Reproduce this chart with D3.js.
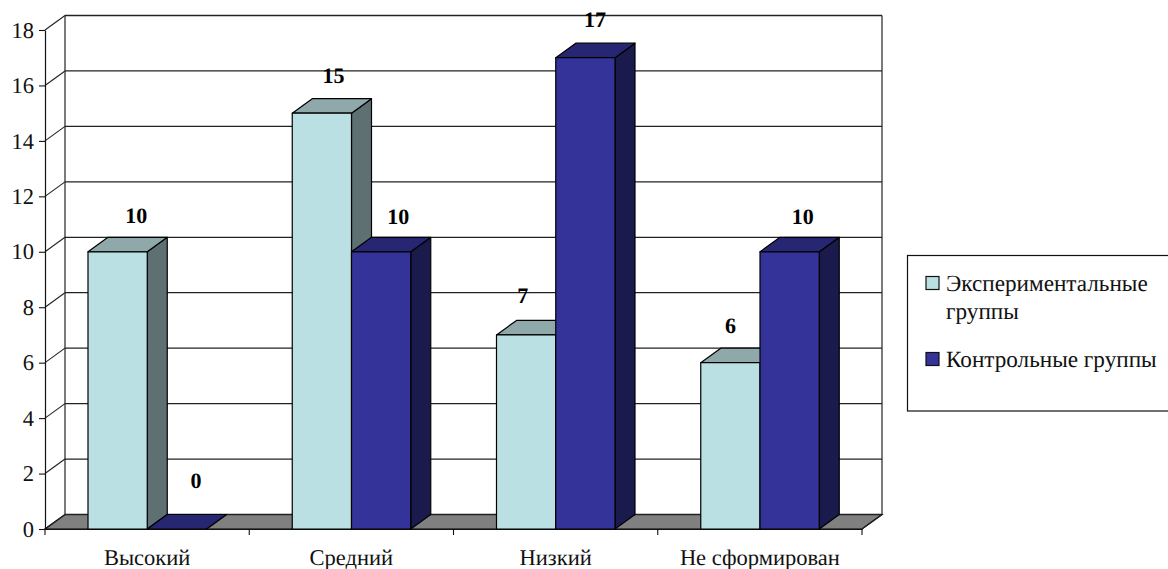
<!DOCTYPE html>
<html lang="ru">
<head>
<meta charset="utf-8">
<script src="https://cdnjs.cloudflare.com/ajax/libs/d3/7.8.5/d3.min.js"></script>
<style>
html,body{margin:0;padding:0;background:#fff}
svg{display:block}
svg text{font-family:'Liberation Serif',serif !important;fill:#111;text-rendering:geometricPrecision}
</style>
</head>
<body>
<svg id="chart" width="1168" height="569"></svg>
<script>
const categories = ["Высокий", "Средний", "Низкий", "Не сформирован"];
const experimental = [10, 15, 7, 6];
const control = [0, 10, 17, 10];
const yTicks = [0, 2, 4, 6, 8, 10, 12, 14, 16, 18];
const legendLines = [["Экспериментальные", "группы"], ["Контрольные группы"]];

const svg = d3.select("#chart");
const depthX = 20, depthY = -14.5;

const x = d3.scaleBand().domain(categories).range([45, 862]).paddingInner(0).paddingOuter(0);
const y = d3.scaleLinear().domain([0, 18]).range([529, 30]);
const series = d3.scaleBand().domain([0, 1]).range([43, 161.5]);

const seriesStyles = [
  {front: "#bbe0e3", top: "#8fa8aa", side: "#5f7073", values: experimental},
  {front: "#333399", top: "#262673", side: "#1a1a4d", values: control}
];

// Hand-placed value labels: shift from the centre of the bar, per series and category
const labelShiftX = [[18.5, 11.5, -3.5, 0], [19, 17, 9.5, 13]];
const labelShiftY = [[-14, -16, -17, -15], [-26.5, -13, -16, -13]];

const pts = a => a.map(p => p.join(",")).join(" ");
const x0 = x.range()[0], x1 = x.range()[1];

// Floor of the 3D box
svg.append("polygon")
  .attr("points", pts([[x0, y(0)], [x1, y(0)], [x1 + depthX, y(0) + depthY], [x0 + depthX, y(0) + depthY]]))
  .attr("fill", "#808080").attr("stroke", "#000").attr("stroke-width", 1.2);

// Back wall gridlines and the slanted lines running down the left wall
const grid = svg.append("g").attr("stroke", "#222").attr("fill", "none");
grid.selectAll("line.back").data(yTicks).join("line").attr("class", "back")
  .attr("x1", x0 + depthX).attr("x2", x1 + depthX)
  .attr("y1", d => y(d) + depthY).attr("y2", d => y(d) + depthY)
  .attr("stroke-width", d => d === 0 || d === 18 ? 1.6 : 1.3);
grid.selectAll("line.wall").data(yTicks).join("line").attr("class", "wall")
  .attr("x1", x0).attr("x2", x0 + depthX)
  .attr("y1", d => y(d)).attr("y2", d => y(d) + depthY)
  .attr("stroke-width", 1.1);
grid.append("line").attr("x1", x0 + depthX).attr("x2", x0 + depthX)
  .attr("y1", y(18) + depthY).attr("y2", y(0) + depthY).attr("stroke-width", 1.2);
grid.append("line").attr("x1", x1 + depthX).attr("x2", x1 + depthX)
  .attr("y1", y(18) + depthY).attr("y2", y(0) + depthY).attr("stroke-width", 1.2);
grid.append("line").attr("x1", x1).attr("x2", x1 + depthX)
  .attr("y1", y(0)).attr("y2", y(0) + depthY).attr("stroke-width", 1.1);

// Left value axis
const yAxis = svg.append("g").attr("transform", `translate(${x0},0)`)
  .call(d3.axisLeft(y).tickValues(yTicks).tickSize(6).tickPadding(5).tickSizeOuter(0));
yAxis.select(".domain").attr("stroke", "#111").attr("stroke-width", 1.2);
yAxis.selectAll(".tick line").attr("stroke", "#111").attr("stroke-width", 1.1);
yAxis.selectAll("text").style("font-size", "22.5px").attr("fill", "#222");

// Bottom category axis
const xAxis = svg.append("g").attr("transform", `translate(0,${y(0)})`)
  .call(d3.axisBottom(x).tickSize(0).tickPadding(20));
xAxis.select(".domain").attr("stroke", "#111").attr("stroke-width", 1.2);
xAxis.selectAll("text").style("font-size", "22.5px").attr("fill", "#222");
svg.append("g").selectAll("line")
  .data(categories.map(c => x(c)).concat([x1])).join("line")
  .attr("x1", d => d).attr("x2", d => d)
  .attr("y1", y(0)).attr("y2", y(0) + 6)
  .attr("stroke", "#111").attr("stroke-width", 1.1);

// Bars are painted category by category, left series first, so the right bar overlaps
const bars = svg.append("g").attr("stroke", "#000").attr("stroke-width", 1.2).attr("stroke-linejoin", "round");
categories.forEach((cat, i) => {
  seriesStyles.forEach((s, j) => {
    const v = s.values[i];
    const l = x(cat) + series(j), r = l + series.bandwidth();
    const t = y(v), b = y(0);
    const g = bars.append("g");
    g.append("polygon").attr("fill", s.side)
      .attr("points", pts([[r, t], [r + depthX, t + depthY], [r + depthX, b + depthY], [r, b]]));
    g.append("polygon").attr("fill", s.top)
      .attr("points", pts([[l, t], [l + depthX, t + depthY], [r + depthX, t + depthY], [r, t]]));
    if (v > 0) {
      g.append("rect").attr("fill", s.front)
        .attr("x", l).attr("y", t).attr("width", r - l).attr("height", b - t);
    }
  });
});

// Value labels above the bars
categories.forEach((cat, i) => {
  seriesStyles.forEach((s, j) => {
    const v = s.values[i];
    const cx = x(cat) + series(j) + series.bandwidth() / 2 + labelShiftX[j][i];
    svg.append("text")
      .attr("x", cx)
      .attr("y", y(v) + depthY + labelShiftY[j][i])
      .attr("text-anchor", "middle")
      .style("font-size", "22px").style("font-weight", "bold").style("fill", "#000")
      .text(v);
  });
});

// Legend
const legend = svg.append("g");
legend.append("rect").attr("x", 907.5).attr("y", 255.5).attr("width", 270).attr("height", 155.5)
  .attr("fill", "#fff").attr("stroke", "#111").attr("stroke-width", 1.2);
const legendRows = [283, 359];
seriesStyles.forEach((s, i) => {
  legend.append("rect").attr("x", 926).attr("y", legendRows[i] - 6.5).attr("width", 13).attr("height", 13)
    .attr("fill", s.front).attr("stroke", "#111").attr("stroke-width", 1.2);
  legendLines[i].forEach((line, k) => {
    legend.append("text").attr("x", 946).attr("y", legendRows[i] + 7.5 + k * 28)
      .style("font-size", "23.2px").text(line);
  });
});
</script>
</body>
</html>
